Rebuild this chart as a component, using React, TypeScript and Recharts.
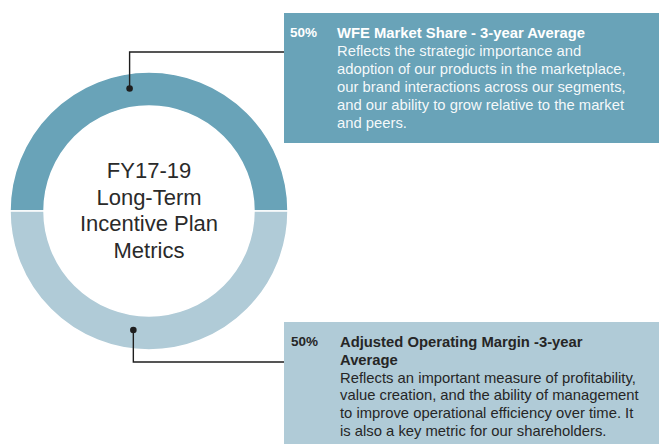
import React from 'react';
import { PieChart, Pie, Cell } from 'recharts';

const metricNames = ['WFE Market Share', 'Adjusted Operating Margin'];
const metricWeights = [50, 50];
const weightLabels = ['50%', '50%'];
const titleLines = [
  ['WFE Market Share - 3-year Average'],
  ['Adjusted Operating Margin -3-year', 'Average'],
];
const bodyLines = [
  [
    'Reflects the strategic importance and',
    'adoption of our products in the marketplace,',
    'our brand interactions across our segments,',
    'and our ability to grow relative to the market',
    'and peers.',
  ],
  [
    'Reflects an important measure of profitability,',
    'value creation, and the ability of management',
    'to improve operational efficiency over time. It',
    'is also a key metric for our shareholders.',
  ],
];
const centerLines = ['FY17-19', 'Long-Term', 'Incentive Plan', 'Metrics'];

const sliceColors = ['#69a3b8', '#b0cbd7'];
const textColors = ['#ffffff', '#262626'];
const FONT = '"Liberation Sans", Arial, Helvetica, sans-serif';

const data = metricNames.map((name, i) => ({ name, value: metricWeights[i] }));

// layout for annotation boxes (not data)
const boxes = [
  { x: 284, y: 13, h: 130, elbowY: 52, anchorAngle: 99, anchorR: 124, firstBase: 38, lineH: 18, pctX: 290, textX: 337 },
  { x: 284, y: 322, h: 122, elbowY: 362, anchorAngle: -97.5, anchorR: 120, firstBase: 347, lineH: 17.8, pctX: 291, textX: 340 },
];

const RAD = Math.PI / 180;

const renderCenter = (cx: number, cy: number) => {
  const lh = 26.6;
  const start = cy - 1.5 * lh + 7;
  return (
    <g>
      {centerLines.map((t, i) => (
        <text key={i} x={cx} y={start + i * lh} textAnchor="middle" fill="#2a2a2a" fontFamily={FONT} fontSize={22}>
          {t}
        </text>
      ))}
    </g>
  );
};

const renderLabel = (props: any) => {
  const { cx, cy, index } = props;
  const b = boxes[index];
  const ax = cx + b.anchorR * Math.cos(b.anchorAngle * RAD);
  const ay = cy - b.anchorR * Math.sin(b.anchorAngle * RAD);
  const color = textColors[index];
  const titles = titleLines[index];
  const body = bodyLines[index];
  return (
    <g key={`lbl-${index}`}>
      {index === 0 ? renderCenter(cx, cy) : null}
      <rect x={b.x} y={b.y} width={659 - b.x} height={b.h} fill={sliceColors[index]} />
      <polyline
        points={`${ax},${ay} ${ax},${b.elbowY} ${b.x},${b.elbowY}`}
        fill="none"
        stroke="#1e1e1e"
        strokeWidth={1.4}
      />
      <circle cx={ax} cy={ay} r={3.3} fill="#1e1e1e" />
      <text x={b.pctX} y={b.firstBase - 1} fill={color} fontFamily={FONT} fontSize={13.5} fontWeight="bold">
        {weightLabels[index]}
      </text>
      {titles.map((t, i) => (
        <text key={`t${i}`} x={b.textX} y={b.firstBase + i * b.lineH} fill={color} fontFamily={FONT} fontSize={14.8} fontWeight="bold">
          {t}
        </text>
      ))}
      {body.map((t, i) => (
        <text
          key={`b${i}`}
          x={b.textX}
          y={b.firstBase + (titles.length + i) * b.lineH}
          fill={color}
          fillOpacity={index === 0 ? 0.95 : 1}
          fontFamily={FONT}
          fontSize={14.8}
        >
          {t}
        </text>
      ))}
    </g>
  );
};

export default function App() {
  return (
    <div style={{ position: 'absolute', left: 0, top: 0, width: 659, height: 444, background: '#fff' }}>
      <PieChart width={659} height={444} margin={{ top: 0, right: 0, bottom: 0, left: 0 }}>
        <Pie
          data={data}
          dataKey="value"
          nameKey="name"
          cx={149}
          cy={211}
          innerRadius={105}
          outerRadius={139}
          startAngle={180}
          endAngle={-180}
          stroke="#ffffff"
          strokeWidth={1.5}
          label={renderLabel}
          labelLine={false}
          isAnimationActive={false}
        >
          {data.map((d, i) => (
            <Cell key={d.name} fill={sliceColors[i]} />
          ))}
        </Pie>
      </PieChart>
    </div>
  );
}
